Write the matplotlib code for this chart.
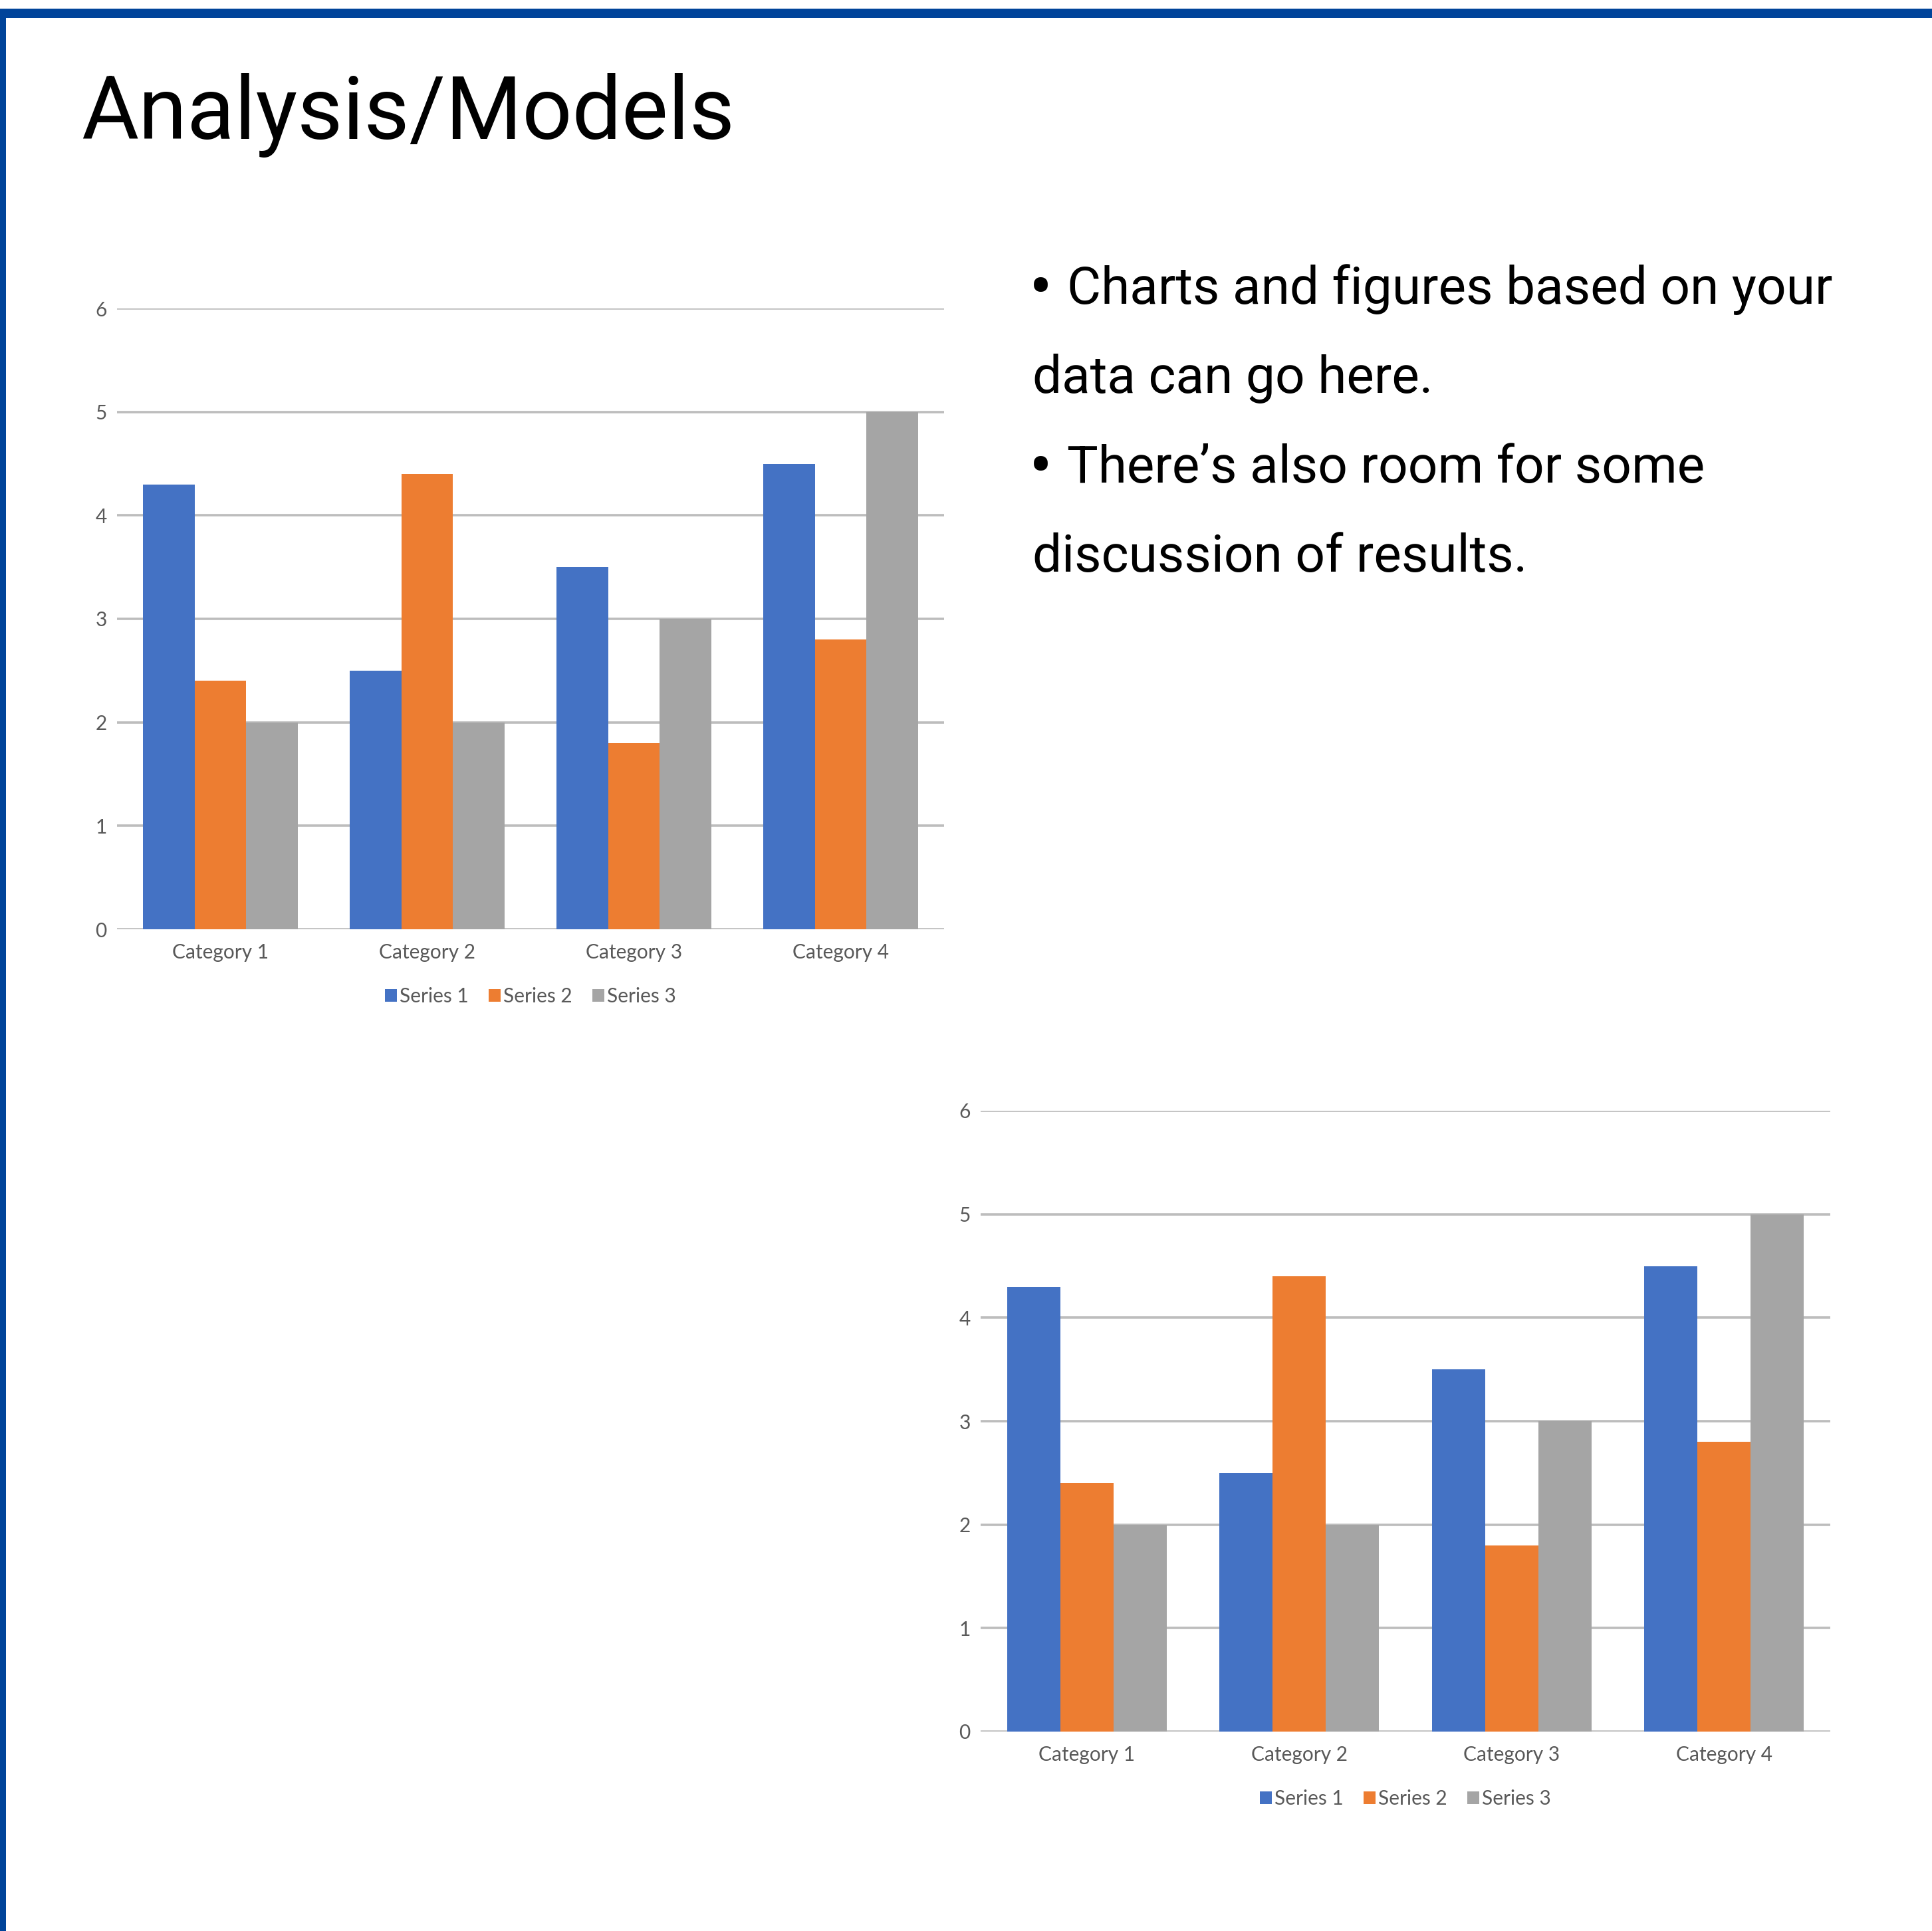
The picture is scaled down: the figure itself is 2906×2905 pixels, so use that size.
import matplotlib
matplotlib.use("Agg")
import matplotlib.pyplot as plt
from matplotlib.patches import Rectangle
import numpy as np

# ---- data ----
categories = ["Category 1", "Category 2", "Category 3", "Category 4"]
series_names = ["Series 1", "Series 2", "Series 3"]
series1 = [4.3, 2.5, 3.5, 4.5]
series2 = [2.4, 4.4, 1.8, 2.8]
series3 = [2.0, 2.0, 3.0, 5.0]
yticks = [0, 1, 2, 3, 4, 5, 6]

title_text = "Analysis/Models"
body_lines = [
    "Charts and figures based on your",
    "data can go here.",
    "There\u2019s also room for some",
    "discussion of results.",
]
bullet_flags = [True, False, True, False]

colors = ["#4472C4", "#ED7D31", "#A5A5A5"]
grid_color = "#BDBDBD"
label_color = "#595959"

W, H = 2906, 2905
DPI = 100
fig = plt.figure(figsize=(W / DPI, H / DPI), dpi=DPI)
fig.patch.set_facecolor("white")


def px_axes(x0, x1, ytop, ybot):
    return [x0 / W, 1 - ybot / H, (x1 - x0) / W, (ybot - ytop) / H]


def draw_chart(rect):
    ax = fig.add_axes(rect)
    x = np.arange(len(categories))
    bw = 0.25
    data = [series1, series2, series3]
    for k, (vals, c, name) in enumerate(zip(data, colors, series_names)):
        ax.bar(x + (k - 1) * bw, vals, width=bw, color=c, label=name,
               edgecolor="none", zorder=3)
    ax.set_xlim(-0.5, len(categories) - 0.5)
    ax.set_ylim(0, 6)
    ax.set_yticks(yticks)
    ax.set_yticklabels([str(v) for v in yticks])
    ax.set_xticks(x)
    ax.set_xticklabels(categories)
    ax.yaxis.grid(True, color=grid_color, linewidth=2.6, zorder=0)
    ax.set_axisbelow(True)
    for s in ax.spines.values():
        s.set_visible(False)
    ax.tick_params(axis="both", length=0, labelcolor=label_color,
                   labelsize=21.5)
    ax.tick_params(axis="y", pad=11)
    ax.tick_params(axis="x", pad=15)
    for lab in ax.get_xticklabels() + ax.get_yticklabels():
        lab.set_fontfamily("Lato")
    ax.set_facecolor("none")
    leg = ax.legend(loc="center", bbox_to_anchor=(0.5, -0.108), ncol=3,
                    frameon=False, handlelength=0.6, handleheight=0.6,
                    handletextpad=0.15, columnspacing=1.0,
                    prop={"family": "Lato", "size": 21.5})
    for t in leg.get_texts():
        t.set_color(label_color)
    return ax


# chart 1 (top-left)
draw_chart(px_axes(176, 1420, 464, 1398))
# chart 2 (bottom-right)
draw_chart(px_axes(1475, 2753, 1671, 2605))

# border
blue = "#00449A"
fig.add_artist(Rectangle((0, 1 - 27 / H), 1, 14 / H, transform=fig.transFigure,
                         facecolor=blue, edgecolor="none"))
fig.add_artist(Rectangle((0, 0), 9 / W, 1 - 13 / H, transform=fig.transFigure,
                         facecolor=blue, edgecolor="none"))

# title
fig.text(122 / W, 1 - 209 / H, title_text, fontsize=95, family="Roboto",
         color="black", va="baseline", ha="left")

# body text
baselines = [457, 591, 726, 860]
for line, yb, has_bullet in zip(body_lines, baselines, bullet_flags):
    if has_bullet:
        fig.text(1548 / W, 1 - (yb + 9) / H, "\u2022", fontsize=75,
                 family="Roboto", color="black", va="baseline", ha="left")
        x0 = 1605
    else:
        x0 = 1553
    fig.text(x0 / W, 1 - yb / H, line, fontsize=56.4, family="Roboto",
             color="black", va="baseline", ha="left")

fig.savefig("out.png", dpi=DPI, facecolor="white")
